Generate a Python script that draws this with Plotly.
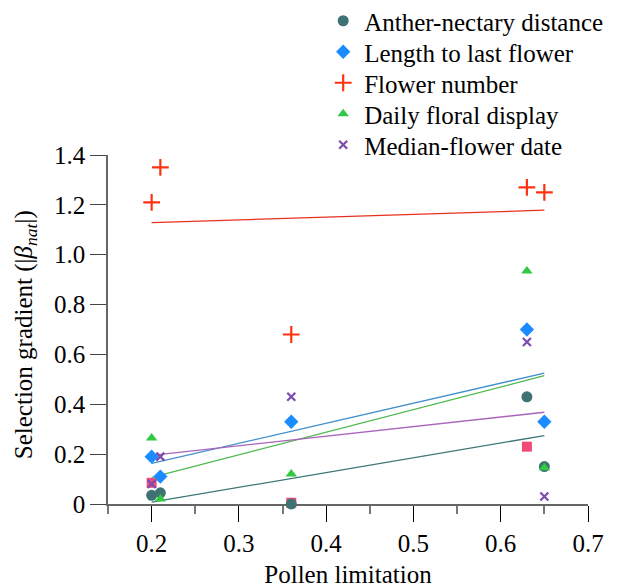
import numpy as np
import plotly.graph_objects as go

# Pollen limitation (x) for the five populations
pollen_lim = [0.2, 0.21, 0.36, 0.63, 0.65]

# Selection gradients (|beta_nat|)
anther_nectary = [0.035, 0.045, 0.0, 0.43, 0.15]
length_last = [0.19, 0.11, 0.33, 0.70, 0.33]
flower_number = [1.21, 1.35, 0.68, 1.27, 1.25]
daily_display = [0.265, 0.02, 0.12, 0.935, 0.145]
median_date = [0.08, 0.19, 0.43, 0.65, 0.03]

# extra (unlabelled) series shown as squares
extra_x = [0.2, 0.36, 0.63]
extra_y = [0.085, 0.005, 0.23]

x_ticks = [0.2, 0.3, 0.4, 0.5, 0.6, 0.7]
x_minor = [0.15, 0.25, 0.35, 0.45, 0.55, 0.65]
y_ticks = [0, 0.2, 0.4, 0.6, 0.8, 1.0, 1.2, 1.4]
y_ticktext = ["0", "0.2", "0.4", "0.6", "0.8", "1.0", "1.2", "1.4"]

series = [
    dict(name="Anther-nectary distance", y=anther_nectary, color="#3f7373",
         line="#3b7777", symbol="circle", size=11, lw=0),
    dict(name="Length to last flower", y=length_last, color="#1a8cff",
         line="#4090cc", symbol="diamond", size=11, lw=0),
    dict(name="Flower number", y=flower_number, color="#ff3311",
         line="#e8301c", symbol="cross-thin", size=12, lw=2.2),
    dict(name="Daily floral display", y=daily_display, color="#33c844",
         line="#4cb84c", symbol="triangle-up", size=10, lw=0),
    dict(name="Median-flower date", y=median_date, color="#7a4cb0",
         line="#a865bc", symbol="x-thin", size=8, lw=2.2),
]

FONT = "Liberation Serif"
fig = go.Figure()

# regression lines (OLS fit of each series on pollen limitation)
xa = np.array(pollen_lim)
xfit = np.array([min(pollen_lim), max(pollen_lim)])
for s in series:
    b, a = np.polyfit(xa, np.array(s["y"]), 1)
    fig.add_trace(go.Scatter(x=xfit, y=a + b * xfit, mode="lines",
                             line=dict(color=s["line"], width=1.3),
                             showlegend=False, hoverinfo="skip"))

fig.add_trace(go.Scatter(x=extra_x, y=extra_y, mode="markers", name="other",
                         marker=dict(symbol="square", size=10, color="#f24a78"),
                         showlegend=False, cliponaxis=False))

legend_names = ["legend", "legend2", "legend3", "legend4", "legend5"]
for i, s in enumerate(series):
    mk = dict(symbol=s["symbol"], size=s["size"], color=s["color"])
    mk["line"] = dict(color=s["color"], width=s["lw"]) if s["lw"] else dict(width=0)
    fig.add_trace(go.Scatter(x=pollen_lim, y=s["y"], mode="markers", name=s["name"],
                             marker=mk, cliponaxis=False, legend=legend_names[i]))

# one legend box per entry so the row spacing matches the reference
row_centres_px = [21, 52, 83, 114, 145]
legend_layout = {}
for name, yc in zip(legend_names, row_centres_px):
    legend_layout[name] = dict(
        xref="container", yref="container",
        x=0.518, xanchor="left", y=1 - yc / 588, yanchor="middle",
        font=dict(family=FONT, size=25, color="black"),
        bgcolor="rgba(0,0,0,0)", itemsizing="trace", itemwidth=32)

fig.update_layout(
    width=622, height=588,
    margin=dict(l=108, r=34, t=155, b=84, autoexpand=False),
    paper_bgcolor="white", plot_bgcolor="white",
    font=dict(family=FONT, size=25, color="black"),
    showlegend=True,
    xaxis=dict(range=[0.15, 0.7], tickvals=x_ticks,
               ticktext=[f"{v:.1f}" for v in x_ticks],
               ticks="outside", ticklen=16, tickwidth=1.3, tickcolor="black",
               showline=True, linecolor="#666666", linewidth=1.5,
               showgrid=False, zeroline=False, layer="below traces",
               tickfont=dict(family=FONT, size=25),
               minor=dict(tickvals=x_minor, ticks="outside", ticklen=8,
                          tickcolor="#777777", tickwidth=2, showgrid=False),
               title=dict(text="Pollen limitation", standoff=24,
                          font=dict(family=FONT, size=25))),
    yaxis=dict(range=[0, 1.4], tickvals=y_ticks, ticktext=y_ticktext,
               ticks="outside", ticklen=16, tickwidth=1.3, tickcolor="#444444",
               showline=True, linecolor="#666666", linewidth=1.5,
               showgrid=False, zeroline=False, layer="below traces",
               tickfont=dict(family=FONT, size=25)),
    annotations=[dict(text="Selection gradient (|<i>β</i><sub><i>nat</i></sub>|)",
                      textangle=-90, xref="paper", yref="paper",
                      x=-0.172, y=0.485, xanchor="center", yanchor="middle",
                      showarrow=False, font=dict(family=FONT, size=25))],
    **legend_layout,
)

fig.write_html("out.html")
